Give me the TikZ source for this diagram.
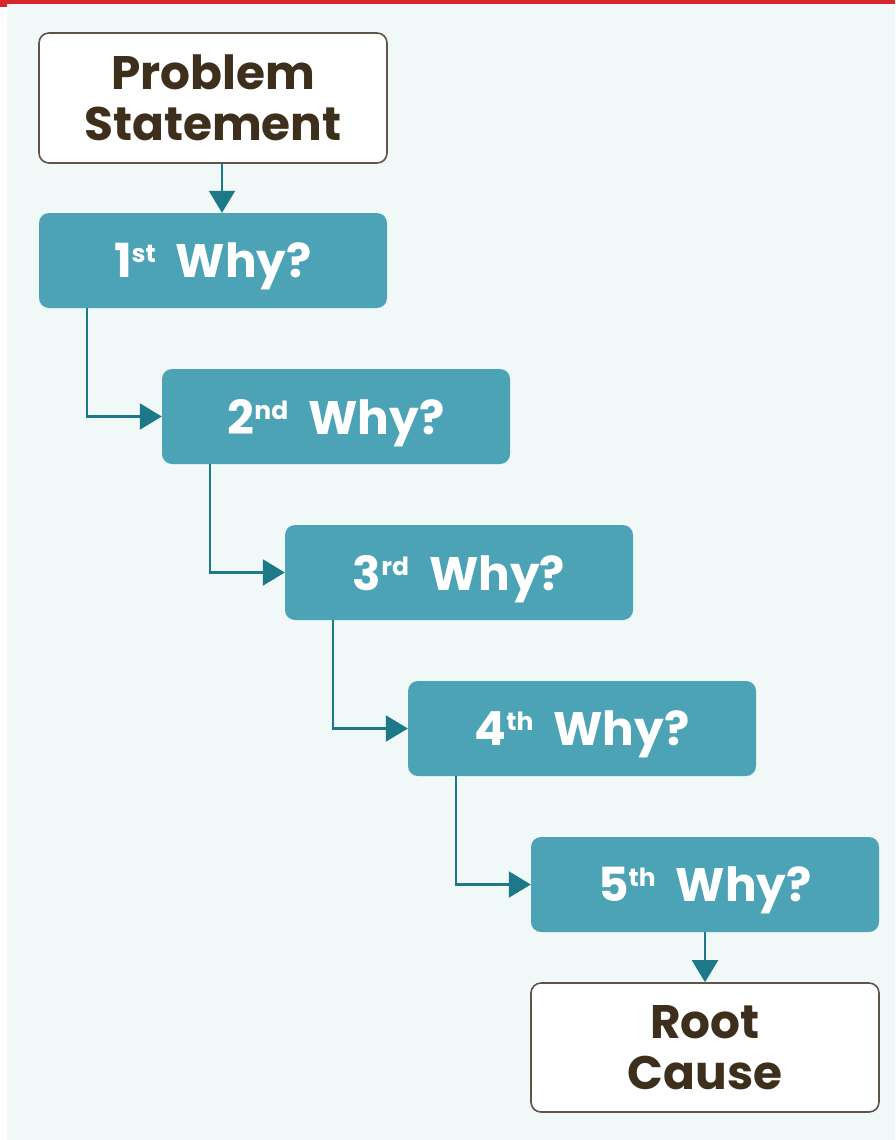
\documentclass[tikz,border=0pt]{standalone}
\usepackage{fontspec}
\setmainfont{Poppins}
\usetikzlibrary{arrows.meta,positioning}

\definecolor{bgcol}{HTML}{F0F8F8}
\definecolor{redbar}{HTML}{D7262E}
\definecolor{whyfill}{HTML}{4CA3B6}
\definecolor{arrowcol}{HTML}{1D7888}
\definecolor{textbrown}{HTML}{3E2F1C}
\definecolor{edgebrown}{HTML}{5E5448}

\newcommand{\ordmark}[1]{\raisebox{15pt}{\fontsize{25}{25}\selectfont #1}\hspace{20pt}}

\tikzset{
  endbox/.style={draw=edgebrown, line width=1.6pt, fill=white, rounded corners=10pt,
    minimum width=348pt, minimum height=130pt, inner sep=0pt, align=center,
    text=textbrown, font=\fontsize{47}{51}\selectfont\bfseries},
  whybox/.style={fill=whyfill, rounded corners=10pt, minimum width=348pt,
    minimum height=95pt, inner sep=0pt, text depth=0pt, text=white,
    font=\fontsize{47}{47}\selectfont\bfseries},
  flow/.style={draw=arrowcol, line width=2.2pt, -{Triangle[length=22pt,width=26pt]}}
}

\begin{document}
\begin{tikzpicture}[x=1pt,y=-1pt]
  % Background
  \fill[white] (0,0) rectangle (895,1140);
  \fill[bgcol] (7,4) rectangle (895,1140);
  \fill[redbar] (0,0) rectangle (895,4);
  \fill[redbar] (0,0) rectangle (7,7);
  \useasboundingbox (0,0) rectangle (895,1140);

  % Boxes
  \node[endbox] (ps) at (213,98) {Problem\\Statement};
  \foreach \i/\s in {1/st,2/nd,3/rd,4/th,5/th}
    \node[whybox] (w\i) at ({213+123*(\i-1)},{260.5+156*(\i-1)}) {\i\ordmark{\s}Why?};
  \node[endbox, minimum height=129pt, below=50pt of w5] (rc) {Root\\Cause};

  % Arrows
  \draw[flow] ([xshift=9pt]ps.south) -- ([xshift=9pt]ps.south |- w1.north);
  \foreach \i/\j in {1/2,2/3,3/4,4/5}
    \draw[flow] ([xshift=48pt]w\i.south west) |- (w\j.west);
  \draw[flow] (w5.south) -- (rc.north);
\end{tikzpicture}
\end{document}
